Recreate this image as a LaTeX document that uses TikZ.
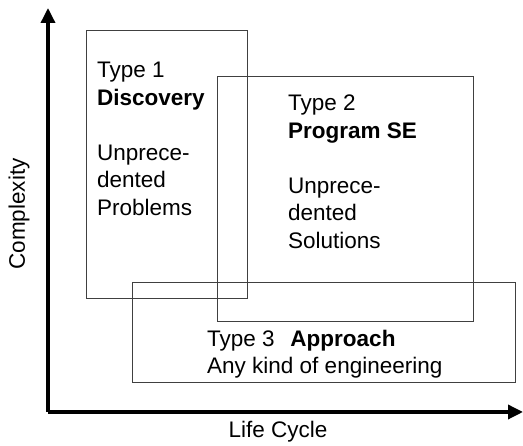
\documentclass[tikz,border=0pt]{standalone}
\usepackage{fontspec}
\setmainfont{Liberation Sans}
\usetikzlibrary{arrows.meta, positioning}

\begin{document}
\begin{tikzpicture}[x=1pt, y=1pt, every node/.style={align=left},
    axis/.style={line width=3.4pt, -{Triangle[length=15pt, width=14pt]}},
    typebox/.style={
        draw=black!75,
        line width=0.9pt,
        inner sep=0pt,
        outer sep=0pt
    },
    typetext/.style={
        inner sep=0pt,
        font=\fontsize{22.5}{27.5}\selectfont
    }]

    \useasboundingbox (0,0) rectangle (523,446);

    % Axes
    \coordinate (origin) at (48,34);
    \coordinate (ytip) at (48,438);
    \coordinate (xtip) at (523,34);
    \draw[axis] (origin) -- (ytip);
    \draw[axis] (origin) -- (xtip);
    \node[typetext, anchor=center] (xlabel) at (278,14) {Life Cycle};
    \node[typetext, anchor=center, rotate=90] (ylabel) at (19,232) {Complexity};

    % Boxes for the three types
    \node[typebox, minimum width=161pt, minimum height=268pt] (box1) at (166.5,282) {};
    \node[typebox, minimum width=256pt, minimum height=245pt] (box2) at (345,247.5) {};
    \node[typebox, minimum width=383pt, minimum height=100pt] (box3) at (323.5,114) {};

    % Type 1 text
    \node[typetext, below right=32pt and 11pt of box1.north west] (type1)
        {Type 1\\ \textbf{Discovery}\\[27.5pt] Unprece-\\ dented\\ Problems};

    % Type 2 text
    \node[typetext, below right=19pt and 71pt of box2.north west] (type2)
        {Type 2\\ \textbf{Program SE}\\[27.5pt] Unprece-\\ dented\\ Solutions};

    % Type 3 text
    \node[typetext, below right=48pt and 75pt of box3.north west] (type3)
        {Type 3\hspace{0.7em}\textbf{Approach}\\ Any kind of engineering};

\end{tikzpicture}
\end{document}
